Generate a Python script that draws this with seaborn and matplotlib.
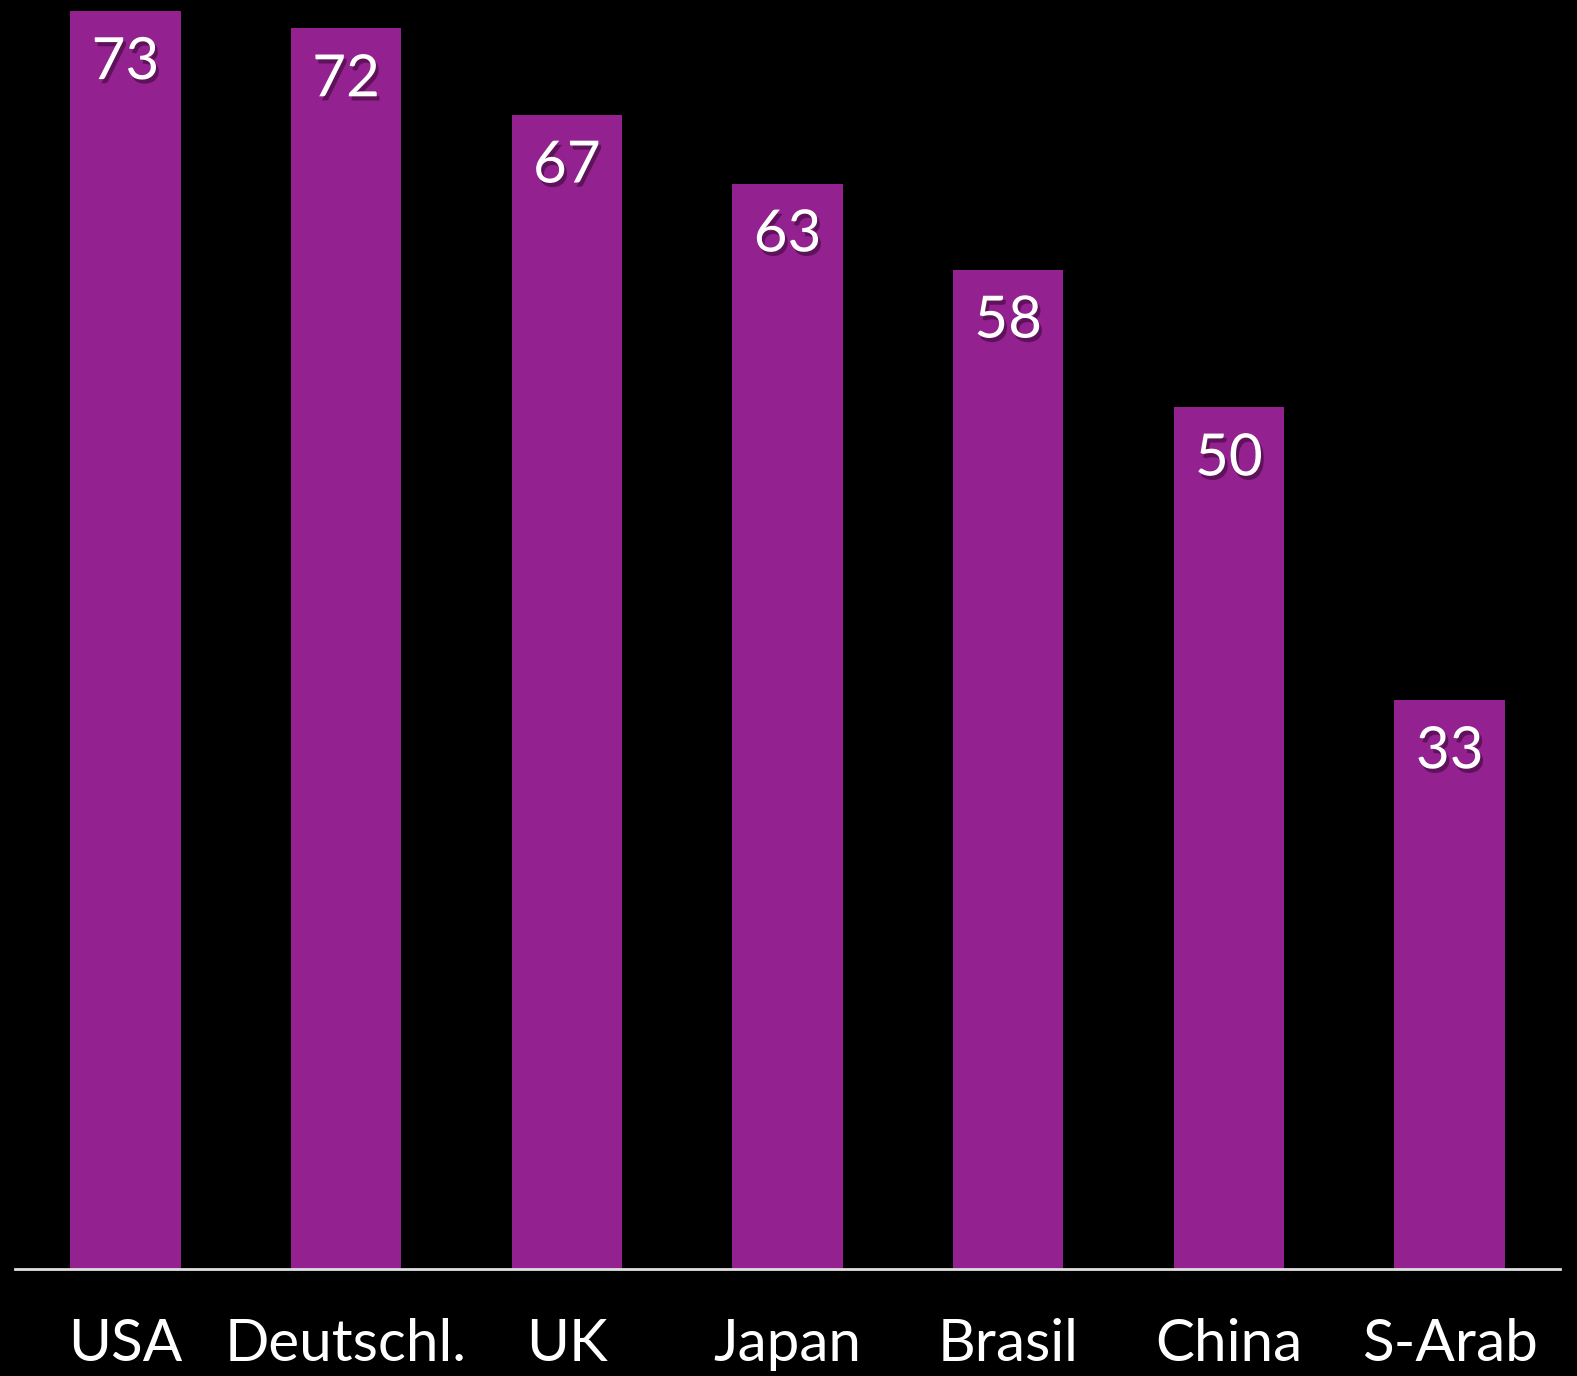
import matplotlib
matplotlib.use("Agg")
import matplotlib.pyplot as plt
import matplotlib.patheffects as pe
import seaborn as sns
import pandas as pd

countries = ["USA", "Deutschl.", "UK", "Japan", "Brasil", "China", "S-Arab"]
values = [73, 72, 67, 63, 58, 50, 33]

bar_color = "#93218F"

sns.set_theme(style="white")
plt.rcParams["font.family"] = ["Lato", "DejaVu Sans"]

df = pd.DataFrame({"country": countries, "value": values})

fig = plt.figure(figsize=(15.77, 13.76), dpi=100, facecolor="black")
ax = fig.add_axes([15 / 1577, (1376 - 1269) / 1376, 1545 / 1577, 1269 / 1376])
ax.set_facecolor("black")

sns.barplot(data=df, x="country", y="value", color=bar_color, saturation=1,
            width=0.5, linewidth=0, edgecolor="none", ax=ax)

ax.set_xlim(-0.5, 6.5)
ax.set_ylim(0, 73.65)

for spine in ["top", "right", "left"]:
    ax.spines[spine].set_visible(False)
ax.spines["bottom"].set_color("#e0e0e0")
ax.spines["bottom"].set_linewidth(2)
ax.spines["bottom"].set_zorder(5)

ax.set_yticks([])
ax.set_xlabel("")
ax.set_ylabel("")
ax.tick_params(axis="x", length=0, pad=35, labelsize=42, labelcolor="white")

shadow = [pe.withSimplePatchShadow(offset=(2, -3), shadow_rgbFace="#3a0838", alpha=0.6)]
for i, v in enumerate(values):
    ax.annotate(str(v), xy=(i, v), xytext=(0, -37), textcoords="offset points",
                ha="center", va="center", fontsize=42, color="white",
                path_effects=shadow)

fig.savefig("out.png", dpi=100, facecolor="black")
